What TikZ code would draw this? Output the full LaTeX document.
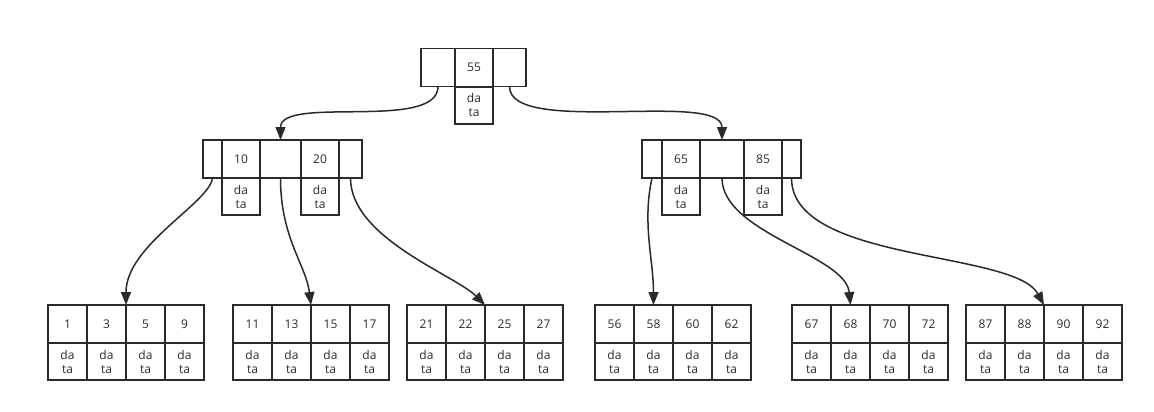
\documentclass[tikz,border=0pt]{standalone}
\usepackage{fontspec}
\setmainfont{Open Sans}
\usepackage{xcolor}
\definecolor{ink}{HTML}{2A2A2A}
\usetikzlibrary{arrows.meta,positioning}

\begin{document}
\begin{tikzpicture}[x=1pt,y=-1pt,
  cell/.style={draw=ink,line width=1.6pt,inner sep=0pt,outer sep=0pt,minimum height=38pt,text=ink,font=\fontsize{12}{14}\selectfont},
  ptr/.style={cell,minimum width=#1},
  key/.style={cell,minimum width=38pt},
  dat/.style={cell,minimum width=38pt,minimum height=37pt,align=center},
  link/.style={draw=ink,line width=1.5pt,-{Triangle[length=13pt,width=10pt]}}
]
  \useasboundingbox (0,0) rectangle (1154,412);
  % root
  \node[ptr=34pt] (tp1) at (438,67.5) {};
  \node[key] (tk) at (474,67.5) {55};
  \node[ptr=33pt] (tp2) at (509.5,67.5) {};
  \node[dat] (td) at (474,105.5) {da\\ta};
  % left inner node
  \node[ptr=19pt] (lp1) at (212.5,159) {};
  \node[key] (lk1) at (241,159) {10};
  \node[ptr=41pt] (lp2) at (280.5,159) {};
  \node[key] (lk2) at (320,159) {20};
  \node[ptr=23pt] (lp3) at (350.5,159) {};
  \node[dat] (ld1) at (241,196.5) {da\\ta};
  \node[dat] (ld2) at (320,196.5) {da\\ta};
  % right inner node
  \node[ptr=20pt] (rp1) at (652,159) {};
  \node[key] (rk1) at (681,159) {65};
  \node[ptr=44pt] (rp2) at (722,159) {};
  \node[key] (rk2) at (763,159) {85};
  \node[ptr=19pt] (rp3) at (791.5,159) {};
  \node[dat] (rd1) at (681,196.5) {da\\ta};
  \node[dat] (rd2) at (763,196.5) {da\\ta};
  % leaves
  \foreach \x/\keys [count=\i] in {48/{1,3,5,9},233/{11,13,15,17},407/{21,22,25,27},595/{56,58,60,62},792/{67,68,70,72},966/{87,88,90,92}}
    \foreach \k [count=\j] in \keys {
      \node[key,minimum width=39pt] (leaf\i-\j) at ({\x+39*\j-19.5},324) {\k};
      \node[dat,minimum width=39pt] (dat\i-\j) at ({\x+39*\j-19.5},361.5) {da\\ta};
    }
  \draw[link] (tp1.south) .. controls +(0,45) and +(0,-45) .. (lp2.north);
  \draw[link] (tp2.south) .. controls +(0,50) and +(0,-50) .. (rp2.north);
  \draw[link] (lp1.south) .. controls +(-3,25) and +(0,-60) .. (leaf1-2.north east);
  \draw[link] (lp2.south) .. controls +(0,60) and +(-5,-40) .. (leaf2-2.north east);
  \draw[link] (lp3.south) .. controls +(0,60) and +(-30,-30) .. (leaf3-2.north east);
  \draw[link] (rp1.south) .. controls +(-10,45) and +(0,-45) .. (leaf4-2.north);
  \draw[link] (rp2.south) .. controls +(0,55) and +(-5,-50) .. (leaf5-2.north);
  \draw[link] (rp3.south) .. controls +(0,85) and +(-30,-55) .. (leaf6-2.north east);
\end{tikzpicture}
\end{document}
